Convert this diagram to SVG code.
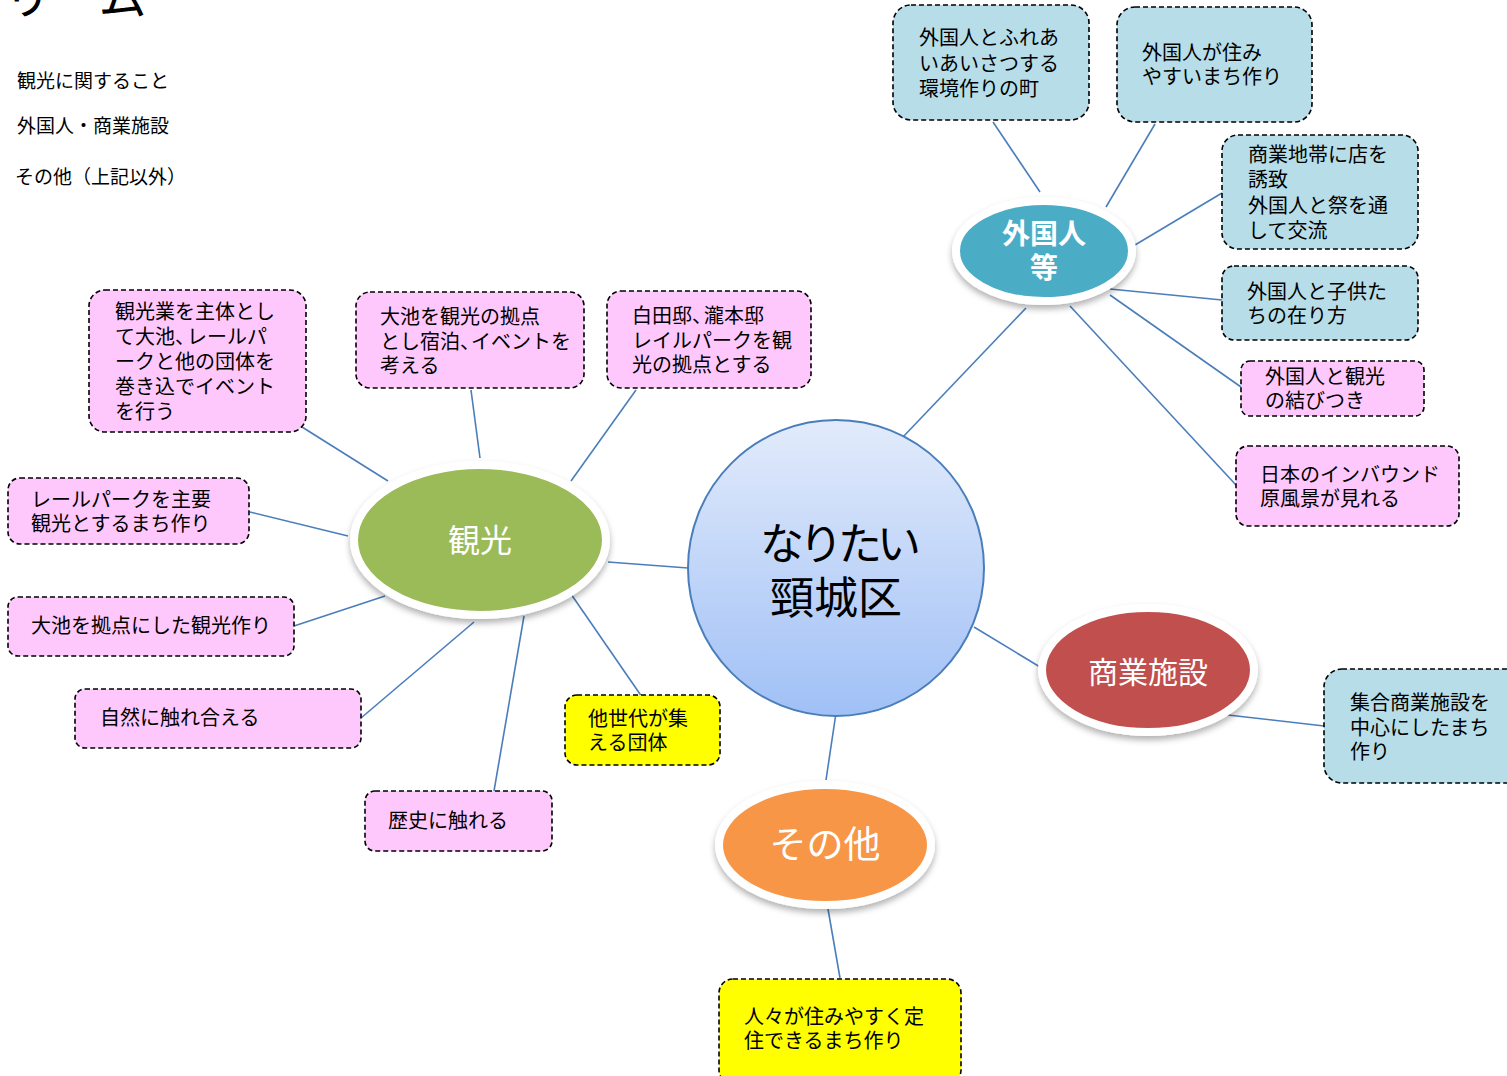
<svg xmlns="http://www.w3.org/2000/svg" width="1507" height="1076" viewBox="0 0 1507 1076">
<defs>
<linearGradient id="cg" x1="0" y1="0" x2="0" y2="1">
<stop offset="0" stop-color="#e2ebfb"/>
<stop offset="1" stop-color="#a0c0f6"/>
</linearGradient>
<filter id="sh" x="-20%" y="-20%" width="140%" height="150%">
<feDropShadow dx="0" dy="4" stdDeviation="3" flood-color="#000" flood-opacity="0.3"/>
</filter>
<style>
text{font-family:"Noto Sans CJK JP","Noto Sans",sans-serif;}
.t{font-size:20px;fill:#000;}
.leg{font-size:19px;fill:#000;}
.box{stroke:#000;stroke-width:1.6;stroke-dasharray:5 3;}
.pk{fill:#fec8fd;}
.bl{fill:#b7dde8;}
.yw{fill:#ffff00;}
.ring{stroke:#fff;stroke-width:8;filter:url(#sh);}
.w{fill:#fff;text-anchor:middle;}
#conn line{stroke:#4a7ebb;stroke-width:1.6;}
</style>
</defs>
<rect width="1507" height="1076" fill="#fff"/>
<text x="-44" y="14" style="font-size:48px">ドリーム</text>
<g id="legend">
<text class="leg" x="17" y="88">観光に関すること</text>
<text class="leg" x="17" y="133">外国人・商業施設</text>
<text class="leg" x="15" y="184">その他（上記以外）</text>
</g>
<g id="conn">
<line x1="608" y1="562" x2="688" y2="568"/>
<line x1="902" y1="438" x2="1026" y2="308"/>
<line x1="974" y1="627" x2="1040" y2="667"/>
<line x1="836" y1="713" x2="826" y2="780"/>
<line x1="302" y1="427" x2="388" y2="481"/>
<line x1="471" y1="390" x2="480" y2="458"/>
<line x1="636" y1="390" x2="571" y2="481"/>
<line x1="250" y1="512" x2="348" y2="536"/>
<line x1="294" y1="626" x2="385" y2="596"/>
<line x1="361" y1="718" x2="474" y2="622"/>
<line x1="494" y1="791" x2="524" y2="616"/>
<line x1="571" y1="594" x2="642" y2="697"/>
<line x1="993" y1="122" x2="1040" y2="192"/>
<line x1="1155" y1="124" x2="1106" y2="207"/>
<line x1="1222" y1="193" x2="1135" y2="245"/>
<line x1="1222" y1="300" x2="1110" y2="289"/>
<line x1="1241" y1="387" x2="1110" y2="295"/>
<line x1="1236" y1="485" x2="1070" y2="306"/>
<line x1="1228" y1="715" x2="1324" y2="726"/>
<line x1="828" y1="909" x2="840" y2="978"/>
</g>
<g id="center">
<circle cx="836" cy="568" r="148" fill="url(#cg)" stroke="#4a7ebb" stroke-width="2"/>
<text x="836" text-anchor="middle" style="font-size:44px"><tspan x="838" y="560" letter-spacing="-5">なりたい</tspan><tspan x="836" y="614">頸城区</tspan></text>
</g>
<g id="kanko">
<ellipse cx="480" cy="540" rx="126" ry="75" fill="#9bbb59" class="ring"/>
<text class="w" x="480" y="552" style="font-size:32px">観光</text>
</g>
<g id="gaikokujin">
<ellipse cx="1044" cy="251" rx="88" ry="50" fill="#4bacc6" class="ring"/>
<text class="w" style="font-size:28px;font-weight:bold"><tspan x="1044" y="244">外国人</tspan><tspan x="1044" y="278">等</tspan></text>
</g>
<g id="shogyo">
<ellipse cx="1148" cy="670" rx="106" ry="62" fill="#c0504d" class="ring"/>
<text class="w" x="1148" y="683" style="font-size:30px">商業施設</text>
</g>
<g id="sonota">
<ellipse cx="825" cy="845" rx="106" ry="60" fill="#f79646" class="ring"/>
<text class="w" x="825" y="858" style="font-size:37px">その他</text>
</g>
<g id="b1"><rect class="box pk" x="89" y="290" width="217" height="142" rx="16"/>
<text class="t"><tspan x="115" y="319">観光業を主体とし</tspan><tspan x="115" y="344">て大池、<tspan dx="-8">レールパ</tspan></tspan><tspan x="115" y="369">ークと他の団体を</tspan><tspan x="115" y="394">巻き込でイベント</tspan><tspan x="115" y="419">を行う</tspan></text></g>
<g id="b2"><rect class="box pk" x="356" y="292" width="228" height="96" rx="14"/>
<text class="t"><tspan x="380" y="324">大池を観光の拠点</tspan><tspan x="380" y="349">とし宿泊、<tspan dx="-9">イベントを</tspan></tspan><tspan x="380" y="373">考える</tspan></text></g>
<g id="b3"><rect class="box pk" x="607" y="291" width="204" height="97" rx="14"/>
<text class="t"><tspan x="632" y="323">白田邸、<tspan dx="-8">瀧本邸</tspan></tspan><tspan x="632" y="348">レイルパークを観</tspan><tspan x="632" y="372">光の拠点とする</tspan></text></g>
<g id="b4"><rect class="box pk" x="8" y="478" width="241" height="66" rx="12"/>
<text class="t"><tspan x="31" y="507">レールパークを主要</tspan><tspan x="31" y="531">観光とするまち作り</tspan></text></g>
<g id="b5"><rect class="box pk" x="8" y="597" width="286" height="59" rx="10"/>
<text class="t" x="31" y="633">大池を拠点にした観光作り</text></g>
<g id="b6"><rect class="box pk" x="75" y="689" width="286" height="59" rx="10"/>
<text class="t" x="100" y="725">自然に触れ合える</text></g>
<g id="b7"><rect class="box pk" x="365" y="791" width="187" height="60" rx="10"/>
<text class="t" x="388" y="828">歴史に触れる</text></g>
<g id="b15"><rect class="box yw" x="565" y="695" width="155" height="70" rx="12"/>
<text class="t"><tspan x="588" y="726">他世代が集</tspan><tspan x="588" y="750">える団体</tspan></text></g>
<g id="b16"><rect class="box yw" x="719" y="979" width="242" height="105" rx="14"/>
<text class="t"><tspan x="744" y="1024">人々が住みやすく定</tspan><tspan x="744" y="1048">住できるまち作り</tspan></text></g>
<g id="b10"><rect class="box bl" x="893" y="5" width="196" height="115" rx="18"/>
<text class="t"><tspan x="919" y="45">外国人とふれあ</tspan><tspan x="919" y="71">いあいさつする</tspan><tspan x="919" y="96">環境作りの町</tspan></text></g>
<g id="b11"><rect class="box bl" x="1117" y="7" width="195" height="115" rx="18"/>
<text class="t"><tspan x="1142" y="60">外国人が住み</tspan><tspan x="1142" y="84">やすいまち作り</tspan></text></g>
<g id="b12"><rect class="box bl" x="1222" y="135" width="196" height="114" rx="16"/>
<text class="t"><tspan x="1248" y="162">商業地帯に店を</tspan><tspan x="1248" y="187">誘致</tspan><tspan x="1248" y="213">外国人と祭を通</tspan><tspan x="1248" y="238">して交流</tspan></text></g>
<g id="b13"><rect class="box bl" x="1222" y="266" width="196" height="74" rx="12"/>
<text class="t"><tspan x="1247" y="299">外国人と子供た</tspan><tspan x="1247" y="323">ちの在り方</tspan></text></g>
<g id="b8"><rect class="box pk" x="1241" y="361" width="183" height="55" rx="9"/>
<text class="t"><tspan x="1265" y="384">外国人と観光</tspan><tspan x="1265" y="408">の結びつき</tspan></text></g>
<g id="b9"><rect class="box pk" x="1236" y="446" width="223" height="80" rx="12"/>
<text class="t"><tspan x="1260" y="482">日本のインバウンド</tspan><tspan x="1260" y="506">原風景が見れる</tspan></text></g>
<g id="b14"><rect class="box bl" x="1324" y="669" width="200" height="114" rx="18"/>
<text class="t"><tspan x="1350" y="710">集合商業施設を</tspan><tspan x="1350" y="735">中心にしたまち</tspan><tspan x="1350" y="759">作り</tspan></text></g>
</svg>
